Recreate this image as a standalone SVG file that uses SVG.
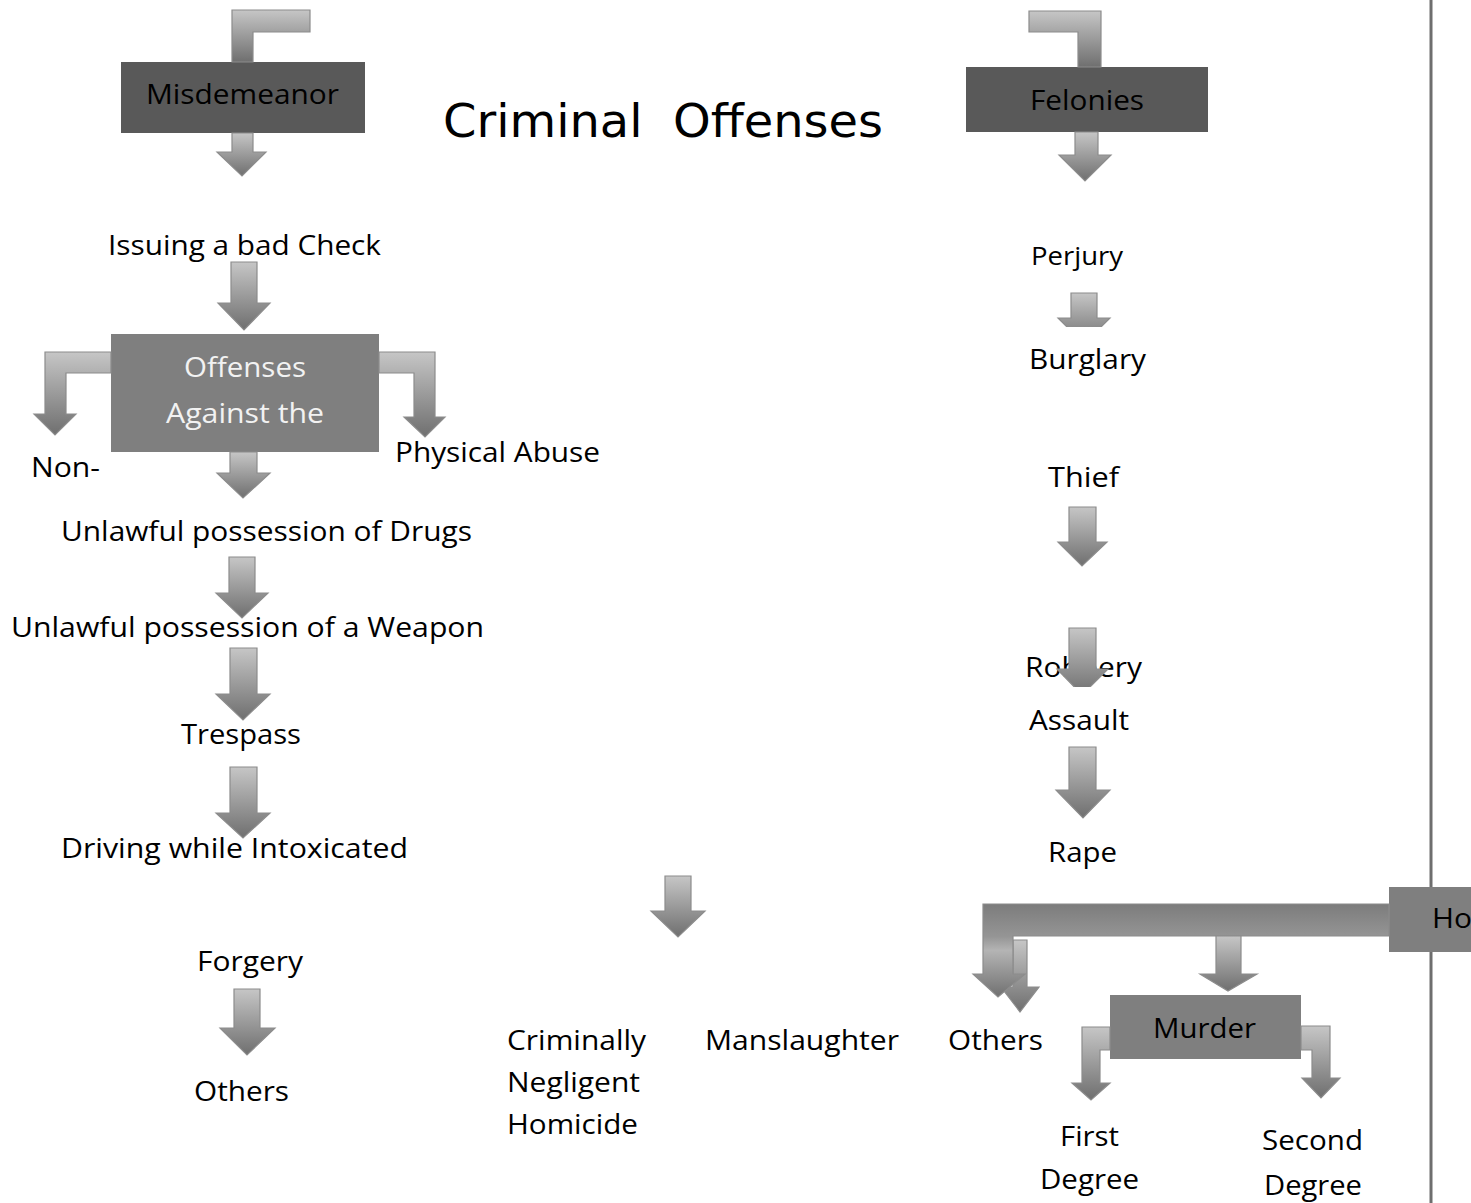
<svg xmlns="http://www.w3.org/2000/svg" width="1471" height="1203" viewBox="0 0 1471 1203">
  <style>
    .lbl { font-family: "Open Sans", "Liberation Sans", sans-serif; font-size: 28px; fill: #000; }
    .lbl-w { font-family: "Open Sans", "Liberation Sans", sans-serif; font-size: 28px; fill: #f2f2f2; }
    .title { font-family: "DejaVu Sans", "Liberation Sans", sans-serif; font-size: 46px; fill: #000; }
    .box-dark { fill: #595959; }
    .box-mid { fill: #7f7f7f; }
    .arrow { fill: url(#shade); stroke: #8c8c8c; stroke-width: 1.2; stroke-linejoin: miter; }
  </style>
  <defs>
    <linearGradient id="shade" x1="0" y1="0" x2="0" y2="1">
      <stop offset="0" stop-color="#c6c6c6"/>
      <stop offset="1" stop-color="#6f6f6f"/>
    </linearGradient>
    <linearGradient id="barShade" gradientUnits="userSpaceOnUse" x1="0" y1="904" x2="0" y2="997">
      <stop offset="0" stop-color="#7c7c7c"/>
      <stop offset="0.35" stop-color="#959595"/>
      <stop offset="0.5" stop-color="#b4b4b4"/>
      <stop offset="1" stop-color="#707070"/>
    </linearGradient>
    <clipPath id="clipPerjury"><rect x="1040" y="280" width="90" height="47"/></clipPath>
    <clipPath id="clipRobbery"><rect x="1040" y="620" width="90" height="67"/></clipPath>
  </defs>

  <rect width="1471" height="1203" fill="#ffffff"/>

  <!-- page margin rule -->
  <line x1="1431" y1="0" x2="1431" y2="1203" stroke="#6e6e6e" stroke-width="3"/>

  <!-- title -->
  <g id="title">
    <text class="title" x="443" y="137" textLength="440" lengthAdjust="spacingAndGlyphs" xml:space="preserve">Criminal  Offenses</text>
  </g>

  <!-- boxed nodes -->
  <g id="node-misdemeanor">
    <rect class="box-dark" x="121" y="62" width="244" height="71"/>
    <text class="lbl" x="146" y="104" textLength="193" lengthAdjust="spacingAndGlyphs">Misdemeanor</text>
  </g>
  <g id="node-felonies">
    <rect class="box-dark" x="966" y="67" width="242" height="65"/>
    <text class="lbl" x="1030" y="110" textLength="114" lengthAdjust="spacingAndGlyphs">Felonies</text>
  </g>
  <g id="node-offenses-against">
    <rect class="box-mid" x="111" y="334" width="268" height="118"/>
    <text class="lbl-w" x="184" y="377" textLength="122" lengthAdjust="spacingAndGlyphs">Offenses</text>
    <text class="lbl-w" x="166" y="423" textLength="158" lengthAdjust="spacingAndGlyphs">Against the</text>
  </g>
  <g id="node-homicide">
    <rect class="box-mid" x="1389" y="887" width="90" height="65"/>
    <text class="lbl" x="1432" y="928" textLength="40" lengthAdjust="spacingAndGlyphs">Ho</text>
  </g>
  <g id="node-murder">
    <rect class="box-mid" x="1110" y="995" width="191" height="64"/>
    <text class="lbl" x="1153" y="1038" textLength="103" lengthAdjust="spacingAndGlyphs">Murder</text>
  </g>

  <!-- misdemeanor column -->
  <g id="node-bad-check"><text class="lbl" x="108" y="255" textLength="273" lengthAdjust="spacingAndGlyphs">Issuing a bad Check</text></g>
  <g id="node-non"><text class="lbl" x="31" y="477" textLength="69" lengthAdjust="spacingAndGlyphs">Non-</text></g>
  <g id="node-physical-abuse"><text class="lbl" x="395" y="462" textLength="205" lengthAdjust="spacingAndGlyphs">Physical Abuse</text></g>
  <g id="node-drugs"><text class="lbl" x="61" y="541" textLength="411" lengthAdjust="spacingAndGlyphs">Unlawful possession of Drugs</text></g>
  <g id="node-weapon"><text class="lbl" x="11" y="637" textLength="473" lengthAdjust="spacingAndGlyphs">Unlawful possession of a Weapon</text></g>
  <g id="node-trespass"><text class="lbl" x="181" y="744" textLength="120" lengthAdjust="spacingAndGlyphs">Trespass</text></g>
  <g id="node-dwi"><text class="lbl" x="61" y="858" textLength="347" lengthAdjust="spacingAndGlyphs">Driving while Intoxicated</text></g>
  <g id="node-forgery"><text class="lbl" x="197" y="971" textLength="106" lengthAdjust="spacingAndGlyphs">Forgery</text></g>
  <g id="node-others-left"><text class="lbl" x="194" y="1101" textLength="95" lengthAdjust="spacingAndGlyphs">Others</text></g>

  <!-- homicide branches -->
  <g id="node-negligent-homicide">
    <text class="lbl" x="507" y="1050" textLength="139" lengthAdjust="spacingAndGlyphs">Criminally</text>
    <text class="lbl" x="507" y="1092" textLength="133" lengthAdjust="spacingAndGlyphs">Negligent</text>
    <text class="lbl" x="507" y="1134" textLength="131" lengthAdjust="spacingAndGlyphs">Homicide</text>
  </g>
  <g id="node-manslaughter"><text class="lbl" x="705" y="1050" textLength="194" lengthAdjust="spacingAndGlyphs">Manslaughter</text></g>
  <g id="node-others-right"><text class="lbl" x="948" y="1050" textLength="95" lengthAdjust="spacingAndGlyphs">Others</text></g>
  <g id="node-first-degree">
    <text class="lbl" x="1060" y="1146" textLength="59" lengthAdjust="spacingAndGlyphs">First</text>
    <text class="lbl" x="1040" y="1189" textLength="99" lengthAdjust="spacingAndGlyphs">Degree</text>
  </g>
  <g id="node-second-degree">
    <text class="lbl" x="1262" y="1150" textLength="101" lengthAdjust="spacingAndGlyphs">Second</text>
    <text class="lbl" x="1264" y="1195" textLength="98" lengthAdjust="spacingAndGlyphs">Degree</text>
  </g>

  <!-- felony column -->
  <g id="node-perjury"><text class="lbl" x="1031" y="265" textLength="92" lengthAdjust="spacingAndGlyphs" style="font-size:26px">Perjury</text></g>
  <g id="node-burglary"><text class="lbl" x="1029" y="369" textLength="117" lengthAdjust="spacingAndGlyphs">Burglary</text></g>
  <g id="node-thief"><text class="lbl" x="1048" y="487" textLength="71" lengthAdjust="spacingAndGlyphs">Thief</text></g>
  <g id="node-robbery"><text class="lbl" x="1025" y="677" textLength="117" lengthAdjust="spacingAndGlyphs">Robbery</text></g>
  <g id="node-assault"><text class="lbl" x="1029" y="730" textLength="100" lengthAdjust="spacingAndGlyphs">Assault</text></g>
  <g id="node-rape"><text class="lbl" x="1048" y="862" textLength="69" lengthAdjust="spacingAndGlyphs">Rape</text></g>

  <!-- connectors -->
  <g id="connectors">
    <!-- bent feeds into the two category boxes -->
    <path class="arrow" d="M310,10 H232 V62 H253 V32 H310 Z"/>
    <path class="arrow" d="M1029,11 H1101 V67 H1078 V32 H1029 Z"/>

    <!-- misdemeanor chain -->
    <path class="arrow" d="M232,133 V152 H217 L242,176 L266,152 H253 V133 Z"/>
    <path class="arrow" d="M231,262 V303 H218 L244,330 L270,303 H257 V262 Z"/>
    <path class="arrow" d="M111,352 H45 V414 H34 L55,435 L76,414 H66 V373 H111 Z"/>
    <path class="arrow" d="M379,352 H435 V417 H445 L425,437 L404,417 H414 V373 H379 Z"/>
    <path class="arrow" d="M230,452 V473 H217 L243,498 L270,473 H257 V452 Z"/>
    <path class="arrow" d="M229,557 V593 H216 L242,618 L268,593 H255 V557 Z"/>
    <path class="arrow" d="M230,648 V694 H216 L243,720 L270,694 H257 V648 Z"/>
    <path class="arrow" d="M230,767 V813 H216 L243,838 L270,813 H257 V767 Z"/>
    <path class="arrow" d="M234,989 V1028 H220 L247,1055 L275,1028 H260 V989 Z"/>

    <!-- homicide into its branches -->
    <path class="arrow" d="M665,876 V911 H651 L678,937 L705,911 H691 V876 Z"/>

    <!-- felony chain -->
    <path class="arrow" d="M1075,132 V155 H1059 L1085,181 L1111,155 H1098 V132 Z"/>
    <g clip-path="url(#clipPerjury)">
      <path class="arrow" d="M1071,293 V318 H1058 L1084,344 L1110,318 H1097 V293 Z"/>
    </g>
    <path class="arrow" d="M1069,507 V542 H1058 L1082,566 L1107,542 H1096 V507 Z"/>
    <g clip-path="url(#clipRobbery)">
      <path class="arrow" d="M1069,628 V669 H1057 L1082,695 L1108,669 H1096 V628 Z"/>
    </g>
    <path class="arrow" d="M1069,747 V790 H1056 L1083,818 L1110,790 H1096 V747 Z"/>

    <!-- homicide bar and its drops -->
    <path class="arrow" d="M1013,940 V987 H1001 L1020,1012 L1039,987 H1027 V940 Z"/>
    <path d="M1389,904 H983 V974 H973 L998,997 L1025,974 H1013 V936 H1389 Z" fill="url(#barShade)" stroke="#8c8c8c" stroke-width="1.2"/>
    <path class="arrow" d="M1216,936 V974 H1200 L1228,991 L1257,974 H1241 V936 Z"/>

    <!-- murder degrees -->
    <path class="arrow" d="M1110,1027 H1082 V1083 H1072 L1091,1100 L1110,1083 H1100 V1050 H1110 Z"/>
    <path class="arrow" d="M1301,1026 H1330 V1078 H1340 L1321,1098 L1302,1078 H1312 V1050 H1301 Z"/>
  </g>
</svg>
